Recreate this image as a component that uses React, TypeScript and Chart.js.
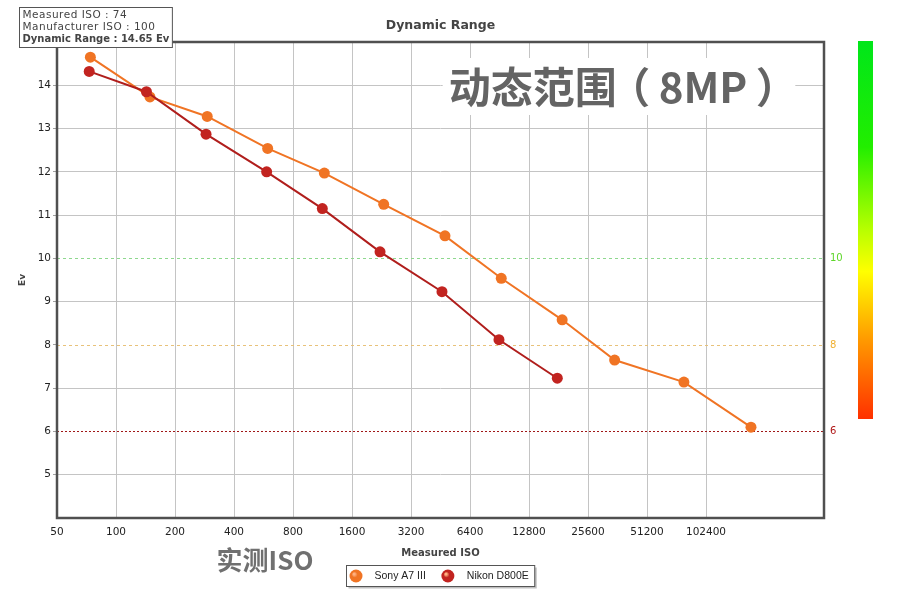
import React, { useEffect, useRef } from 'react';
import { Chart, registerables } from 'chart.js';

Chart.register(...registerables);

// ---- data ----
const chartTitle = 'Dynamic Range';
const xAxisTitle = 'Measured ISO';
const yAxisTitle = 'Ev';
const watermarkText = '动态范围（8MP）';
const xWatermarkText = '实测ISO';

const isoTicks = [50, 100, 200, 400, 800, 1600, 3200, 6400, 12800, 25600, 51200, 102400];
const evTicks = [5, 6, 7, 8, 9, 10, 11, 12, 13, 14];
const thresholdLevels = [6, 8, 10];
const thresholdLabelColors = ['#b01818', '#f0b030', '#5ed62a'];
const thresholdLineColors = ['#a01818', '#e8c27a', '#8ed88e'];

const seriesNames = ['Sony A7 III', 'Nikon D800E'];
const seriesColors = ['#f07424', '#c22420'];
const seriesLineColors = ['#f07424', '#b01e1c'];

const sonyIso = [74, 149, 292, 594, 1156, 2322, 4770, 9240, 18900, 35000, 79000, 173700];
const sonyEv = [14.65, 13.73, 13.28, 12.54, 11.97, 11.25, 10.52, 9.54, 8.58, 7.65, 7.14, 6.1];
const nikonIso = [73, 143, 288, 587, 1129, 2224, 4605, 8995, 17850];
const nikonEv = [14.32, 13.85, 12.87, 12.0, 11.15, 10.15, 9.23, 8.12, 7.23];

const highlightManufacturerIso = 100;

const decorPlugin = {
  id: 'decor',
  beforeDatasetsDraw(chart: any) {
    const { ctx, chartArea: a, scales } = chart;
    const y = scales.y;
    ctx.save();
    thresholdLevels.forEach((lv, i) => {
      const py = Math.round(y.getPixelForValue(lv)) + 0.5;
      ctx.strokeStyle = thresholdLineColors[i];
      ctx.lineWidth = 1;
      ctx.setLineDash(i === 0 ? [2, 2] : [3, 3]);
      ctx.beginPath();
      ctx.moveTo(a.left, py);
      ctx.lineTo(a.right, py);
      ctx.stroke();
    });
    ctx.setLineDash([]);
    // watermark (full-width brackets drawn centred in their cell)
    const fs = 42;
    ctx.font = `bold ${fs}px "Noto Sans CJK SC"`;
    const w = ctx.measureText(watermarkText).width;
    const cx = a.right - 205;
    const cy = a.top + 45;
    ctx.fillStyle = '#ffffff';
    ctx.fillRect(cx - w / 2 - 6, cy - 29, w + 12, 57);
    ctx.fillStyle = '#646464';
    ctx.textAlign = 'left';
    ctx.textBaseline = 'middle';
    const parts = watermarkText.split(/([（）])/).filter((p) => p.length > 0);
    let x = cx - w / 2;
    parts.forEach((p) => {
      const pw = ctx.measureText(p).width;
      const off = p === '（' ? -0.2 * fs : p === '）' ? 0.2 * fs : 0;
      ctx.fillText(p, x + off, cy);
      x += pw;
    });
    ctx.restore();
  },
  afterDraw(chart: any) {
    const { ctx, chartArea: a } = chart;
    ctx.save();
    // plot border
    ctx.strokeStyle = '#505050';
    ctx.lineWidth = 2.5;
    ctx.strokeRect(a.left, a.top, a.right - a.left, a.bottom - a.top);

    // colour bar
    const bx = a.right + 34;
    const by = a.top - 1;
    const bh = 378;
    const g = ctx.createLinearGradient(0, by, 0, by + bh);
    g.addColorStop(0, '#00e61a');
    g.addColorStop(0.28, '#22ee00');
    g.addColorStop(0.5, '#b8ff00');
    g.addColorStop(0.61, '#ffff00');
    g.addColorStop(0.79, '#ff9a00');
    g.addColorStop(1, '#ff3000');
    ctx.fillStyle = g;
    ctx.fillRect(bx, by, 15, bh);

    // info box
    const lines = [
      'Measured ISO : ' + sonyIso[0],
      'Manufacturer ISO : ' + highlightManufacturerIso,
      'Dynamic Range : ' + sonyEv[0].toFixed(2) + ' Ev',
    ];
    const fonts = ['10.5px "DejaVu Sans"', '10.5px "DejaVu Sans"', 'bold 10px "DejaVu Sans"'];
    const spacing = ['0.5px', '0.5px', '0px'];
    let maxW = 0;
    lines.forEach((t, i) => {
      ctx.font = fonts[i];
      (ctx as any).letterSpacing = spacing[i];
      maxW = Math.max(maxW, ctx.measureText(t).width);
    });
    const ix = 19.5;
    const iy = 7.5;
    ctx.fillStyle = '#ffffff';
    ctx.fillRect(ix, iy, maxW + 6, 40);
    ctx.strokeStyle = '#555555';
    ctx.lineWidth = 1;
    ctx.strokeRect(ix, iy, maxW + 6, 40);
    ctx.fillStyle = '#444444';
    ctx.textAlign = 'left';
    ctx.textBaseline = 'middle';
    lines.forEach((t, i) => {
      ctx.font = fonts[i];
      (ctx as any).letterSpacing = spacing[i];
      ctx.fillText(t, ix + 3, iy + 8 + i * 12);
    });
    (ctx as any).letterSpacing = '0px';

    // legend
    ctx.font = '10.5px "Liberation Sans"';
    const tw = seriesNames.map((n) => ctx.measureText(n).width);
    const total = 28 + tw[0] + 41 + tw[1] + 6;
    const lx = Math.round((a.left + a.right) / 2 - total / 2) + 0.5;
    const ly = 565.5;
    const lh = 21;
    ctx.fillStyle = 'rgba(0,0,0,0.25)';
    ctx.fillRect(lx + 2, ly + 2, total, lh);
    ctx.fillStyle = '#ffffff';
    ctx.fillRect(lx, ly, total, lh);
    ctx.strokeStyle = '#555555';
    ctx.strokeRect(lx, ly, total, lh);
    const cyL = ly + lh / 2;
    const drawBall = (x: number, color: string) => {
      const rg = ctx.createRadialGradient(x - 2, cyL - 2, 1, x, cyL, 6.5);
      rg.addColorStop(0, '#ffb080');
      rg.addColorStop(0.35, color);
      rg.addColorStop(1, color);
      ctx.fillStyle = rg;
      ctx.beginPath();
      ctx.arc(x, cyL, 6.5, 0, Math.PI * 2);
      ctx.fill();
    };
    drawBall(lx + 9.5, seriesColors[0]);
    ctx.fillStyle = '#222222';
    ctx.textBaseline = 'middle';
    ctx.fillText(seriesNames[0], lx + 28, cyL);
    const c2 = lx + 28 + tw[0] + 22;
    drawBall(c2, seriesColors[1]);
    ctx.fillStyle = '#222222';
    ctx.fillText(seriesNames[1], c2 + 19, cyL);

    // x watermark
    ctx.font = 'bold 26px "Noto Sans CJK SC"';
    ctx.fillStyle = '#707070';
    ctx.textAlign = 'center';
    ctx.fillText(xWatermarkText, 265, 560);
    ctx.restore();
  },
};

export default function App() {
  const ref = useRef<HTMLCanvasElement | null>(null);

  useEffect(() => {
    if (!ref.current) return;
    Chart.defaults.font.family = '"DejaVu Sans"';
    const chart = new Chart(ref.current, {
      type: 'line',
      data: {
        datasets: [
          {
            label: seriesNames[0],
            data: sonyIso.map((x, i) => ({ x, y: sonyEv[i] })),
            borderColor: seriesLineColors[0],
            backgroundColor: seriesColors[0],
            pointBackgroundColor: seriesColors[0],
            pointRadius: 5.5,
            pointBorderWidth: 0,
            borderWidth: 2,
            tension: 0,
            order: 1,
          },
          {
            label: seriesNames[1],
            data: nikonIso.map((x, i) => ({ x, y: nikonEv[i] })),
            borderColor: seriesLineColors[1],
            backgroundColor: seriesColors[1],
            pointBackgroundColor: seriesColors[1],
            pointRadius: 5.5,
            pointBorderWidth: 0,
            borderWidth: 2,
            tension: 0,
            order: 0,
          },
        ],
      },
      options: {
        responsive: false,
        animation: false,
        layout: { padding: 0 },
        plugins: {
          legend: { display: false },
          tooltip: { enabled: false },
          title: {
            display: true,
            text: chartTitle,
            fullSize: false,
            color: '#444444',
            font: { family: '"DejaVu Sans"', size: 12.5, weight: 'bold', lineHeight: 1.2 },
            padding: { top: 18.5, bottom: 8.5 },
          },
        },
        scales: {
          x: {
            type: 'logarithmic',
            min: 50,
            max: 409600,
            afterBuildTicks: (s: any) => {
              s.ticks = isoTicks.map((v) => ({ value: v }));
            },
            afterFit: (s: any) => {
              s.height = 82;
            },
            ticks: {
              autoSkip: false,
              maxRotation: 0,
              minRotation: 0,
              padding: 8,
              color: '#222222',
              font: { family: '"DejaVu Sans"', size: 10.5 },
              callback: (v: any) => String(v),
            },
            grid: { color: '#c4c4c4', drawTicks: false, lineWidth: 1 },
            border: { display: false },
            title: {
              display: true,
              text: xAxisTitle,
              color: '#444444',
              font: { family: '"DejaVu Sans"', size: 10, weight: 'bold' },
              padding: { top: 0, bottom: 41 },
            },
          },
          y: {
            type: 'linear',
            position: 'left',
            min: 4,
            max: 15,
            afterBuildTicks: (s: any) => {
              s.ticks = evTicks.map((v) => ({ value: v }));
            },
            afterFit: (s: any) => {
              s.width = 57;
            },
            ticks: {
              padding: 2,
              color: '#222222',
              font: { family: '"DejaVu Sans"', size: 10.5 },
              callback: (v: any) => String(v),
            },
            grid: {
              color: (c: any) =>
                c.tick && thresholdLevels.includes(c.tick.value) ? 'rgba(0,0,0,0)' : '#c4c4c4',
              tickLength: 4,
              tickColor: '#a0a0a0',
            },
            border: { display: false },
            title: {
              display: true,
              text: yAxisTitle,
              color: '#444444',
              font: { family: '"DejaVu Sans"', size: 9, weight: 'bold' },
              padding: { top: 17, bottom: 0 },
            },
          },
          y2: {
            type: 'linear',
            position: 'right',
            min: 4,
            max: 15,
            afterBuildTicks: (s: any) => {
              s.ticks = thresholdLevels.map((v) => ({ value: v }));
            },
            afterFit: (s: any) => {
              s.width = 76;
            },
            ticks: {
              padding: 6,
              font: { family: '"DejaVu Sans"', size: 10 },
              color: (c: any) => {
                const i = thresholdLevels.indexOf(c.tick ? c.tick.value : -1);
                return i >= 0 ? thresholdLabelColors[i] : '#222';
              },
              callback: (v: any) => String(v),
            },
            grid: { display: false, drawTicks: false, drawOnChartArea: false },
            border: { display: false },
          },
        },
      },
      plugins: [decorPlugin],
    } as any);
    return () => chart.destroy();
  }, []);

  return (
    <div style={{ position: 'absolute', left: 0, top: 0, width: 900, height: 600, background: '#ffffff' }}>
      <canvas ref={ref} width={900} height={600} style={{ display: 'block', width: 900, height: 600 }} />
    </div>
  );
}
